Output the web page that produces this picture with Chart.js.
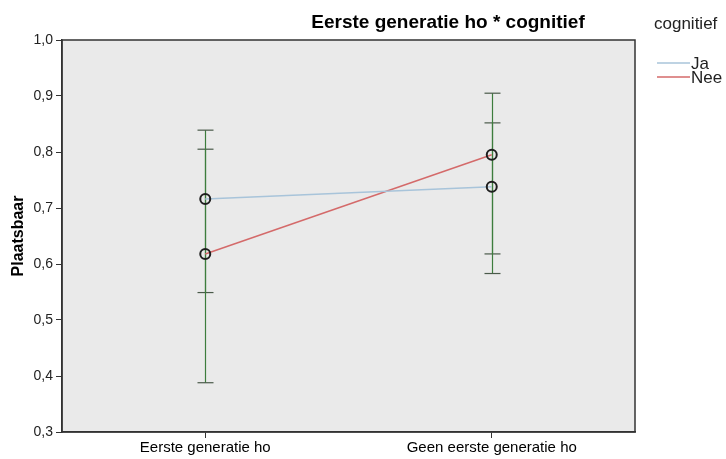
<!DOCTYPE html>
<html>
<head>
<meta charset="utf-8">
<script src="https://cdn.jsdelivr.net/npm/chart.js@4/dist/chart.umd.min.js"></script>
<style>
  html, body { margin: 0; padding: 0; background: #fff; }
  #wrap { width: 726px; height: 459px; position: relative; }
</style>
</head>
<body>
<div id="wrap"><canvas id="chart"></canvas></div>
<script>
// categories and group labels
const categories = ['Eerste generatie ho', 'Geen eerste generatie ho'];
const groups = ['Ja', 'Nee'];

// means per group (Plaatsbaar)
const jaMeans = [0.716, 0.738];
const neeMeans = [0.618, 0.795];

// error bar ends
const jaLow = [0.549, 0.618];
const jaHigh = [0.805, 0.852];
const neeLow = [0.388, 0.583];
const neeHigh = [0.839, 0.905];

const yTicks = [0.3, 0.4, 0.5, 0.6, 0.7, 0.8, 0.9, 1.0];

const FONT = "'Liberation Sans', Arial, sans-serif";
const lineColors = ['#a8c4da', '#d46a6a'];

const errorBars = [
  { low: jaLow, high: jaHigh },
  { low: neeLow, high: neeHigh }
];

// background + frame of the plot area, title and legend
const frame = {
  id: 'frame',
  beforeDraw(chart) {
    const { ctx, chartArea: a } = chart;
    ctx.save();
    ctx.fillStyle = '#eaeaea';
    ctx.fillRect(a.left, a.top, a.right - a.left, a.bottom - a.top);
    ctx.restore();
  },
  afterDraw(chart) {
    const { ctx, chartArea: a } = chart;
    ctx.save();
    ctx.strokeStyle = '#333';
    ctx.lineWidth = 1.5;
    ctx.strokeRect(a.left, a.top, a.right - a.left, a.bottom - a.top);

    // title
    ctx.fillStyle = '#000';
    ctx.font = "bold 19px " + FONT;
    ctx.textAlign = 'center';
    ctx.textBaseline = 'alphabetic';
    ctx.fillText('Eerste generatie ho * cognitief', 448, 28);

    // legend
    ctx.textAlign = 'left';
    ctx.fillStyle = '#222';
    ctx.font = "17px " + FONT;
    ctx.fillText('cognitief', 654, 29);
    ctx.textBaseline = 'middle';
    chart.data.datasets.forEach((ds, i) => {
      const y = 63 + i * 14;
      ctx.strokeStyle = ds.borderColor;
      ctx.lineWidth = 1.5;
      ctx.beginPath();
      ctx.moveTo(657, y);
      ctx.lineTo(690, y);
      ctx.stroke();
      ctx.fillText(ds.label, 691, y + 1);
    });
    ctx.restore();
  }
};

// error bars drawn through the scales
const errBars = {
  id: 'errBars',
  beforeDatasetsDraw(chart) {
    const { ctx, scales: { x, y } } = chart;
    ctx.save();
    errorBars.forEach(eb => {
      categories.forEach((c, j) => {
        const px = Math.round(x.getPixelForValue(j)) + 0.5;
        const yl = y.getPixelForValue(eb.low[j]);
        const yh = y.getPixelForValue(eb.high[j]);
        ctx.strokeStyle = '#3d7d3d';
        ctx.lineWidth = 1.2;
        ctx.beginPath();
        ctx.moveTo(px, yl);
        ctx.lineTo(px, yh);
        ctx.stroke();
        ctx.strokeStyle = '#4a5a4a';
        [yl, yh].forEach(v => {
          ctx.beginPath();
          ctx.moveTo(px - 8, v);
          ctx.lineTo(px + 8, v);
          ctx.stroke();
        });
      });
    });
    ctx.restore();
  }
};

new Chart(document.getElementById('chart'), {
  type: 'line',
  data: {
    labels: categories,
    datasets: [
      { label: groups[0], data: jaMeans, borderColor: lineColors[0] },
      { label: groups[1], data: neeMeans, borderColor: lineColors[1] }
    ].map(d => Object.assign(d, {
      borderWidth: 1.5,
      pointRadius: 5,
      pointBorderWidth: 2,
      pointBorderColor: '#1e1e1e',
      pointBackgroundColor: 'rgba(0,0,0,0)',
      tension: 0
    }))
  },
  options: {
    responsive: true,
    maintainAspectRatio: false,
    animation: false,
    layout: { padding: { left: 9, right: 91, top: 40, bottom: 0 } },
    plugins: {
      legend: { display: false },
      tooltip: { enabled: false }
    },
    scales: {
      x: {
        offset: true,
        afterFit(s) { s.height = 27; },
        border: { display: true, color: '#333', width: 1.5 },
        grid: { drawOnChartArea: false, drawTicks: true, tickLength: 6, color: '#333' },
        ticks: { color: '#000', font: { family: FONT, size: 15 }, padding: 1, maxRotation: 0 }
      },
      y: {
        min: 0.3,
        max: 1.0,
        afterFit(s) { s.width = 53; },
        afterBuildTicks(s) { s.ticks = yTicks.map(v => ({ value: v })); },
        border: { display: true, color: '#333', width: 1.5 },
        grid: { drawOnChartArea: false, drawTicks: true, tickLength: 6, color: '#333' },
        ticks: {
          color: '#222',
          font: { family: FONT, size: 14 },
          padding: 3,
          callback: v => v.toFixed(1).replace('.', ',')
        },
        title: { display: true, text: 'Plaatsbaar', color: '#000', font: { family: FONT, size: 16, weight: 'bold' }, padding: 0 }
      }
    }
  },
  plugins: [frame, errBars]
});
</script>
</body>
</html>
